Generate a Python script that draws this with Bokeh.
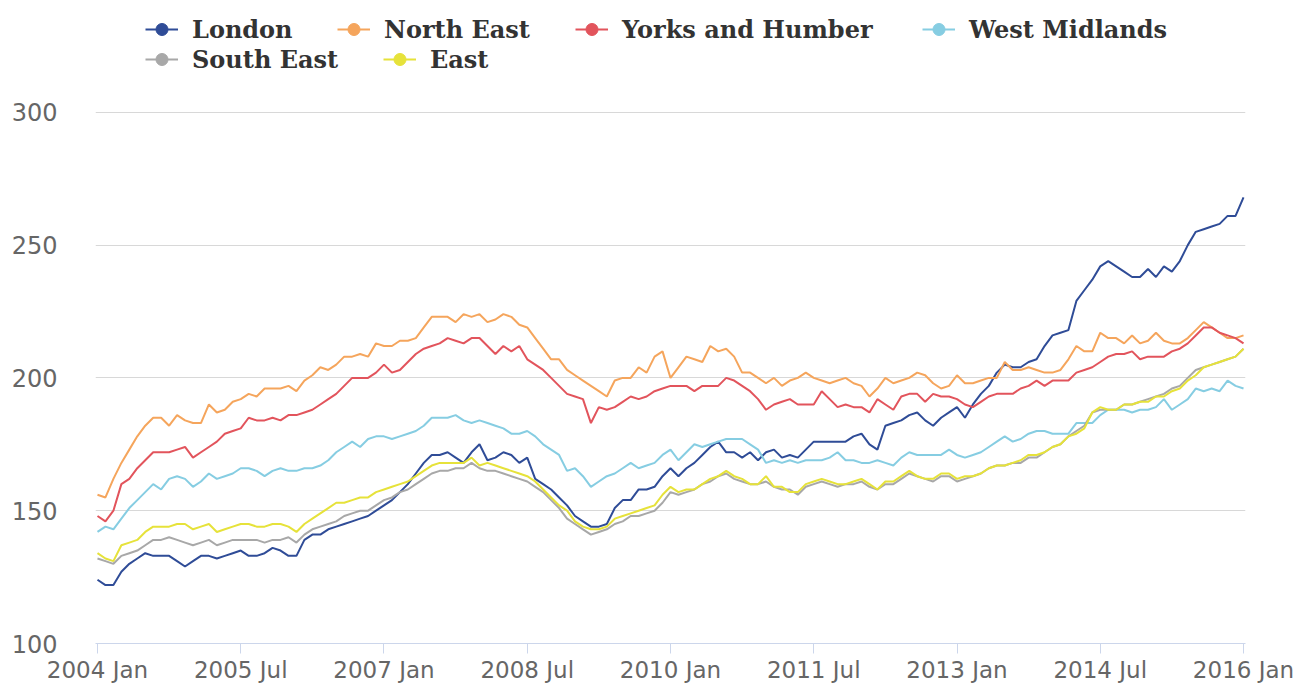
from bokeh.plotting import figure
from bokeh.models import Legend, LegendItem, FixedTicker, ColumnDataSource
from bokeh.embed import file_html
from bokeh.resources import INLINE

# ---------------- data (monthly index, 2004 Jan .. 2016 Jan) ----------------
tick_labels = ["2004 Jan", "2005 Jul", "2007 Jan", "2008 Jul", "2010 Jan",
               "2011 Jul", "2013 Jan", "2014 Jul", "2016 Jan"]
tick_step_months = 18
y_ticks = [100, 150, 200, 250, 300]

london = [
    124, 122, 122, 127, 130, 132, 134, 133, 133, 133, 131, 129,
    131, 133, 133, 132, 133, 134, 135, 133, 133, 134, 136, 135,
    133, 133, 139, 141, 141, 143, 144, 145, 146, 147, 148, 150,
    152, 154, 157, 160, 164, 168, 171, 171, 172, 170, 168, 172,
    175, 169, 170, 172, 171, 168, 170, 162, 160, 158, 155, 152,
    148, 146, 144, 144, 145, 151, 154, 154, 158, 158, 159, 163,
    166, 163, 166, 168, 171, 174, 176, 172, 172, 170, 172, 169,
    172, 173, 170, 171, 170, 173, 176, 176, 176, 176, 176, 178,
    179, 175, 173, 182, 183, 184, 186, 187, 184, 182, 185, 187,
    189, 185, 190, 194, 197, 202, 205, 204, 204, 206, 207, 212,
    216, 217, 218, 229, 233, 237, 242, 244, 242, 240, 238, 238,
    241, 238, 242, 240, 244, 250, 255, 256, 257, 258, 261, 261,
    268]

north_east = [
    156, 155, 162, 168, 173, 178, 182, 185, 185, 182, 186, 184,
    183, 183, 190, 187, 188, 191, 192, 194, 193, 196, 196, 196,
    197, 195, 199, 201, 204, 203, 205, 208, 208, 209, 208, 213,
    212, 212, 214, 214, 215, 219, 223, 223, 223, 221, 224, 223,
    224, 221, 222, 224, 223, 220, 219, 215, 211, 207, 207, 203,
    201, 199, 197, 195, 193, 199, 200, 200, 204, 202, 208, 210,
    200, 204, 208, 207, 206, 212, 210, 211, 208, 202, 202, 200,
    198, 200, 197, 199, 200, 202, 200, 199, 198, 199, 200, 198,
    197, 193, 196, 200, 198, 199, 200, 202, 201, 198, 196, 197,
    201, 198, 198, 199, 200, 200, 206, 203, 203, 204, 203, 202,
    202, 203, 207, 212, 210, 210, 217, 215, 215, 213, 216, 213,
    214, 217, 214, 213, 213, 215, 218, 221, 219, 217, 215, 215,
    216]

yorks_humber = [
    148, 146, 150, 160, 162, 166, 169, 172, 172, 172, 173, 174,
    170, 172, 174, 176, 179, 180, 181, 185, 184, 184, 185, 184,
    186, 186, 187, 188, 190, 192, 194, 197, 200, 200, 200, 202,
    205, 202, 203, 206, 209, 211, 212, 213, 215, 214, 213, 215,
    215, 212, 209, 212, 210, 212, 207, 205, 203, 200, 197, 194,
    193, 192, 183, 189, 188, 189, 191, 193, 192, 193, 195, 196,
    197, 197, 197, 195, 197, 197, 197, 200, 199, 197, 195, 192,
    188, 190, 191, 192, 190, 190, 190, 195, 192, 189, 190, 189,
    189, 187, 192, 190, 188, 193, 194, 194, 191, 194, 193, 193,
    192, 190, 189, 191, 193, 194, 194, 194, 196, 197, 199, 197,
    199, 199, 199, 202, 203, 204, 206, 208, 209, 209, 210, 207,
    208, 208, 208, 210, 211, 213, 216, 219, 219, 217, 216, 215,
    213]

west_midlands = [
    142, 144, 143, 147, 151, 154, 157, 160, 158, 162, 163, 162,
    159, 161, 164, 162, 163, 164, 166, 166, 165, 163, 165, 166,
    165, 165, 166, 166, 167, 169, 172, 174, 176, 174, 177, 178,
    178, 177, 178, 179, 180, 182, 185, 185, 185, 186, 184, 183,
    184, 183, 182, 181, 179, 179, 180, 178, 175, 173, 171, 165,
    166, 163, 159, 161, 163, 164, 166, 168, 166, 167, 168, 171,
    173, 169, 172, 175, 174, 175, 176, 177, 177, 177, 175, 173,
    168, 169, 168, 169, 168, 169, 169, 169, 170, 172, 169, 169,
    168, 168, 169, 168, 167, 170, 172, 171, 171, 171, 171, 173,
    171, 170, 171, 172, 174, 176, 178, 176, 177, 179, 180, 180,
    179, 179, 179, 183, 183, 183, 186, 188, 188, 188, 187, 188,
    188, 189, 192, 188, 190, 192, 196, 195, 196, 195, 199, 197,
    196]

south_east = [
    132, 131, 130, 133, 134, 135, 137, 139, 139, 140, 139, 138,
    137, 138, 139, 137, 138, 139, 139, 139, 139, 138, 139, 139,
    140, 138, 141, 143, 144, 145, 146, 148, 149, 150, 150, 152,
    154, 155, 157, 158, 160, 162, 164, 165, 165, 166, 166, 168,
    166, 165, 165, 164, 163, 162, 161, 159, 157, 154, 151, 147,
    145, 143, 141, 142, 143, 145, 146, 148, 148, 149, 150, 153,
    157, 156, 157, 158, 160, 161, 163, 164, 162, 161, 160, 160,
    161, 159, 158, 158, 156, 159, 160, 161, 160, 159, 160, 160,
    161, 159, 158, 160, 160, 162, 164, 163, 162, 161, 163, 163,
    161, 162, 163, 164, 166, 167, 167, 168, 168, 170, 170, 172,
    174, 175, 178, 180, 182, 187, 188, 188, 188, 190, 190, 191,
    192, 193, 194, 196, 197, 200, 203, 204, 205, 206, 207, 208,
    211]

east = [
    134, 132, 131, 137, 138, 139, 142, 144, 144, 144, 145, 145,
    143, 144, 145, 142, 143, 144, 145, 145, 144, 144, 145, 145,
    144, 142, 145, 147, 149, 151, 153, 153, 154, 155, 155, 157,
    158, 159, 160, 161, 163, 165, 167, 168, 168, 168, 168, 170,
    167, 168, 167, 166, 165, 164, 163, 161, 158, 155, 152, 150,
    146, 144, 143, 143, 144, 147, 148, 149, 150, 151, 152, 156,
    159, 157, 158, 158, 160, 162, 163, 165, 163, 162, 160, 160,
    163, 159, 159, 157, 157, 160, 161, 162, 161, 160, 160, 161,
    162, 160, 158, 161, 161, 163, 165, 163, 162, 162, 164, 164,
    162, 163, 163, 164, 166, 167, 167, 168, 169, 171, 171, 172,
    174, 175, 178, 179, 181, 187, 189, 188, 188, 190, 190, 191,
    191, 193, 193, 195, 196, 199, 201, 204, 205, 206, 207, 208,
    211]

series_names = ["London", "North East", "Yorks and Humber", "West Midlands",
                "South East", "East"]
series_values = [london, north_east, yorks_humber, west_midlands, south_east, east]

# ---------------- style / layout ----------------
colors = ["#2f4c97", "#f5a55c", "#e2545c", "#86cde2", "#a8a8a8", "#e6e23a"]
# legend item anchor: (left of glyph, vertical centre) in page px
legend_anchor = [(145, 30), (337, 30), (575, 30), (922, 30), (145, 60), (383, 60)]

W, H = 1302, 685
FRAME_L, FRAME_R, FRAME_B = 95, 1245, 644
GRID_TOP = 112            # pixel row of the 300 gridline
ITEM_H = 30

n = len(london)
months = list(range(n))
tick_pos = [i * tick_step_months for i in range(len(tick_labels))]

# the frame reaches the top of the page so the legend sits inside it;
# the y range is extended so that 300 still lands on GRID_TOP
y0, y1 = y_ticks[0], y_ticks[-1]
y_end = y0 + (y1 - y0) * FRAME_B / (FRAME_B - GRID_TOP)

p = figure(width=W, height=H, output_backend="svg", toolbar_location=None,
           x_range=(-0.25, n - 1 + 0.25), y_range=(y0, y_end),
           min_border_left=FRAME_L, min_border_right=W - FRAME_R,
           min_border_top=0, min_border_bottom=H - FRAME_B)
p.outline_line_color = None
p.background_fill_color = "white"
p.border_fill_color = "white"

p.xgrid.visible = False
p.ygrid.grid_line_color = "#d8d8d8"
p.ygrid.grid_line_width = 1

p.yaxis.ticker = FixedTicker(ticks=y_ticks)
p.yaxis.axis_line_color = None
p.yaxis.major_tick_line_color = None
p.yaxis.minor_tick_line_color = None
p.yaxis.major_label_standoff = 32
p.yaxis.major_label_text_font = "DejaVu Sans"
p.yaxis.major_label_text_font_size = "24px"
p.yaxis.major_label_text_color = "#666666"

p.xaxis.ticker = FixedTicker(ticks=tick_pos)
p.xaxis.major_label_overrides = {t: lab for t, lab in zip(tick_pos, tick_labels)}
p.xaxis.axis_line_color = "#ccd6eb"
p.xaxis.major_tick_line_color = "#ccd6eb"
p.xaxis.minor_tick_line_color = None
p.xaxis.major_tick_in = 0
p.xaxis.major_tick_out = 10
p.xaxis.major_label_standoff = 3
p.xaxis.major_label_text_font = "DejaVu Sans"
p.xaxis.major_label_text_font_size = "23px"
p.xaxis.major_label_text_color = "#666666"

nan = float("nan")
for name, vals, col, (lx, ly) in zip(series_names, series_values, colors, legend_anchor):
    src = ColumnDataSource(dict(x=months, y=vals))
    rl = p.line("x", "y", source=src, line_color=col, line_width=2)
    # marker used only for the legend symbol: a single undrawable (NaN) point
    msrc = ColumnDataSource(dict(x=[months[0]], y=[nan]))
    rm = p.scatter("x", "y", source=msrc, marker="circle", size=7,
                   fill_color=col, line_color=col)
    leg = Legend(items=[LegendItem(label=name, renderers=[rl, rm])],
                 location=(lx - FRAME_L, FRAME_B - (ly + ITEM_H / 2)),
                 orientation="horizontal", padding=0, margin=0, spacing=0,
                 glyph_width=33, glyph_height=ITEM_H, label_height=ITEM_H,
                 label_standoff=14,
                 label_text_font="DejaVu Serif", label_text_font_style="bold",
                 label_text_font_size="24px", label_text_color="#333333",
                 background_fill_alpha=0, border_line_alpha=0)
    p.add_layout(leg)

open("out.html", "w").write(file_html(p, INLINE))
